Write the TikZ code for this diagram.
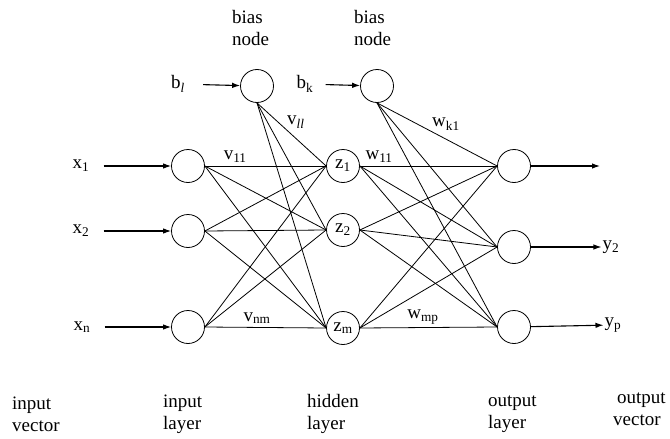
\documentclass[tikz,border=0pt]{standalone}
\usepackage{fontspec}
\setmainfont{Liberation Serif}
\usetikzlibrary{positioning,arrows.meta}

\begin{document}
\begin{tikzpicture}[x=1pt, y=-1pt, node distance=1cm,
  font=\fontsize{19}{22}\selectfont,
  neuron/.style={draw, circle, minimum size=33pt, inner sep=0pt, line width=.8pt},
  lbl/.style={inner sep=1pt, align=left},
  tag/.style={inner sep=0pt, align=left, anchor=west},
  feed/.style={->, line width=1.1pt},
  link/.style={line width=.8pt},
  >={Latex[length=8pt,width=5.5pt]}]
\useasboundingbox (0,0) rectangle (670,439);
\node[neuron] (i1) at (188,166) {};
  \node[neuron] (i2) at (188,231) {};
  \node[neuron] (i3) at (188,327) {};
  \node[neuron] (h1) at (343,166) {z\textsubscript{1}};
  \node[neuron] (h2) at (343,230) {z\textsubscript{2}};
  \node[neuron] (h3) at (343,328) {z\textsubscript{m}};
  \node[neuron] (o1) at (514,166) {};
  \node[neuron] (o2) at (514,247) {};
  \node[neuron] (o3) at (514,327) {};
  \node[neuron] (bl) at (257,86) {};
  \node[neuron] (bk) at (377,86) {};
  \node[tag] (bln) at (232,28) {bias\\node};
  \node[tag] (bkn) at (354,28) {bias\\node};
  \node[lbl] (x1) at (81,166) {x\textsubscript{1}};
  \node[lbl] (x2) at (81,231) {x\textsubscript{2}};
  \node[lbl] (x3) at (82,327) {x\textsubscript{n}};
  \node[lbl] (bll) at (178,84) {b\textsubscript{\textit{l}}};
  \node[lbl] (bkl) at (305,84) {b\textsubscript{k}};
  \node[lbl] (y2) at (611,247) {y\textsubscript{2}};
  \node[lbl] (yp) at (613,325) {y\textsubscript{p}};
  \coordinate (y1) at (600,166);
  \node[tag] (iv) at (12,414) {input\\vector};
  \node[tag] (il) at (163,414) {input\\layer};
  \node[tag] (hl) at (307,414) {hidden\\layer};
  \node[tag] (ol) at (488,414) {output\\layer};
  \node[tag] (ov) at (613,409) {\hspace{4pt}output\\vector};
   \draw[feed, shorten <=13pt] (x1) -- (i1);
   \draw[feed, shorten <=13pt] (x2) -- (i2);
   \draw[feed, shorten <=13pt] (x3) -- (i3);
   \draw[feed, shorten <=17pt] (bll) -- (bl);
   \draw[feed, shorten <=11pt] (bkl) -- (bk);
   \draw[feed] (o1) -- (y1);
   \draw[feed] (o2) -- (y2);
   \draw[feed] (o3) -- (yp);
   \foreach \b in {h1,h2,h3} {
     \foreach \a in {i1,i2,i3} \draw[link] (\a.east) -- (\b.west);
     \draw[link] (bl.south) -- (\b.west);
   }
   \foreach \b in {o1,o2,o3} {
     \foreach \a in {h1,h2,h3} \draw[link] (\a.east) -- (\b.west);
     \draw[link] (bk.south) -- (\b.west);
   }
   \path (i1.east) to node [above, pos=.25] {v\textsubscript{11}} (h1.west);
   \path (i3.east) to node [above, pos=.43] {v\textsubscript{nm}} (h3.west);
   \path (bl.south) to node [above right, pos=.42, inner sep=1pt] {v\textsubscript{\textit{ll}}} (h1.west);
   \path (h1.east) to node [above, pos=.14] {w\textsubscript{11}} (o1.west);
   \path (h3.east) to node [above, pos=.46] {w\textsubscript{mp}} (o3.west);
   \path (bk.south) to node [above right, pos=.45, inner sep=1pt] {w\textsubscript{k1}} (o1.west);
\end{tikzpicture}
\end{document}
